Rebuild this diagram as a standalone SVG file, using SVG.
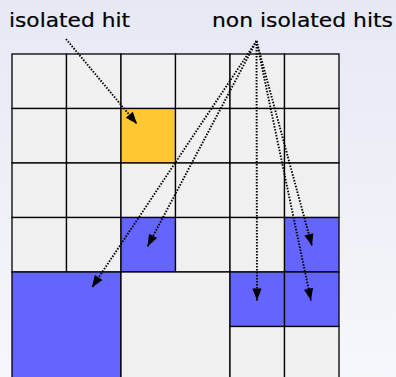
<svg xmlns="http://www.w3.org/2000/svg" width="396" height="377" viewBox="0 0 396 377">
  <defs>
    <linearGradient id="bg" x1="0" y1="0" x2="0" y2="1">
      <stop offset="0" stop-color="#e6e9f4"/>
      <stop offset="1" stop-color="#f6f7fb"/>
    </linearGradient>
    <marker id="ah" viewBox="-13 -6 14 12" refX="0" refY="0" markerWidth="14" markerHeight="12" markerUnits="userSpaceOnUse" orient="auto">
      <path d="M0,0 C-4,-1.5 -9,-3.5 -12,-4.6 L-12,4.6 C-9,3.5 -4,1.5 0,0 Z" fill="#000"/>
    </marker>
  </defs>
  <style>
    .c { fill: #f0f0f0; stroke: #000; stroke-width: 1.3; }
    .b { fill: #6464ff; stroke: #000; stroke-width: 1.3; }
    .o { fill: #ffc832; stroke: #000; stroke-width: 1.3; }
    .lbl { font-family: "DejaVu Sans", sans-serif; font-size: 19.5px; fill: #000; stroke: #000; stroke-width: 0.2; }
    .arr { fill: none; stroke: #000; stroke-width: 1.9; stroke-dasharray: 1.5 1.5; marker-end: url(#ah); }
  </style>
  <rect width="396" height="377" fill="url(#bg)"/>
  <g id="labels">
    <text class="lbl" x="9" y="26.5" textLength="121" lengthAdjust="spacingAndGlyphs">isolated hit</text>
    <text class="lbl" x="212" y="26.5" textLength="181" lengthAdjust="spacingAndGlyphs">non isolated hits</text>
  </g>
  <g id="grid">
    <g id="row0">
      <rect class="c" x="12" y="54" width="54.5" height="54.5"/>
      <rect class="c" x="66.5" y="54" width="54.5" height="54.5"/>
      <rect class="c" x="121" y="54" width="54.5" height="54.5"/>
      <rect class="c" x="175.5" y="54" width="54.5" height="54.5"/>
      <rect class="c" x="230" y="54" width="54.5" height="54.5"/>
      <rect class="c" x="284.5" y="54" width="54.5" height="54.5"/>
    </g>
    <g id="row1">
      <rect class="c" x="12" y="108.5" width="54.5" height="54.5"/>
      <rect class="c" x="66.5" y="108.5" width="54.5" height="54.5"/>
      <rect id="isolated" class="o" x="121" y="108.5" width="54.5" height="54.5"/>
      <rect class="c" x="175.5" y="108.5" width="54.5" height="54.5"/>
      <rect class="c" x="230" y="108.5" width="54.5" height="54.5"/>
      <rect class="c" x="284.5" y="108.5" width="54.5" height="54.5"/>
    </g>
    <g id="row2">
      <rect class="c" x="12" y="163" width="54.5" height="54.5"/>
      <rect class="c" x="66.5" y="163" width="54.5" height="54.5"/>
      <rect class="c" x="121" y="163" width="54.5" height="54.5"/>
      <rect class="c" x="175.5" y="163" width="54.5" height="54.5"/>
      <rect class="c" x="230" y="163" width="54.5" height="54.5"/>
      <rect class="c" x="284.5" y="163" width="54.5" height="54.5"/>
    </g>
    <g id="row3">
      <rect class="c" x="12" y="217.5" width="54.5" height="54.5"/>
      <rect class="c" x="66.5" y="217.5" width="54.5" height="54.5"/>
      <rect id="hit1" class="b" x="121" y="217.5" width="54.5" height="54.5"/>
      <rect class="c" x="175.5" y="217.5" width="54.5" height="54.5"/>
      <rect class="c" x="230" y="217.5" width="54.5" height="54.5"/>
      <rect id="hit2" class="b" x="284.5" y="217.5" width="54.5" height="54.5"/>
    </g>
    <g id="row45">
      <rect id="hit3" class="b" x="12" y="272" width="109" height="109"/>
      <rect class="c" x="121" y="272" width="109" height="109"/>
      <rect id="hit4" class="b" x="230" y="272" width="54.5" height="54.5"/>
      <rect id="hit5" class="b" x="284.5" y="272" width="54.5" height="54.5"/>
      <rect class="c" x="230" y="326.5" width="54.5" height="54.5"/>
      <rect class="c" x="284.5" y="326.5" width="54.5" height="54.5"/>
    </g>
  </g>
  <g id="connectors">
    <line class="arr" x1="66" y1="39" x2="137" y2="124"/>
    <line class="arr" x1="256.5" y1="41" x2="147.5" y2="246.5"/>
    <line class="arr" x1="256.5" y1="41" x2="92" y2="287.5"/>
    <line class="arr" x1="256.5" y1="41" x2="257" y2="300.5"/>
    <line class="arr" x1="256.5" y1="41" x2="312" y2="246"/>
    <line class="arr" x1="256.5" y1="41" x2="311" y2="300.5"/>
  </g>
</svg>
